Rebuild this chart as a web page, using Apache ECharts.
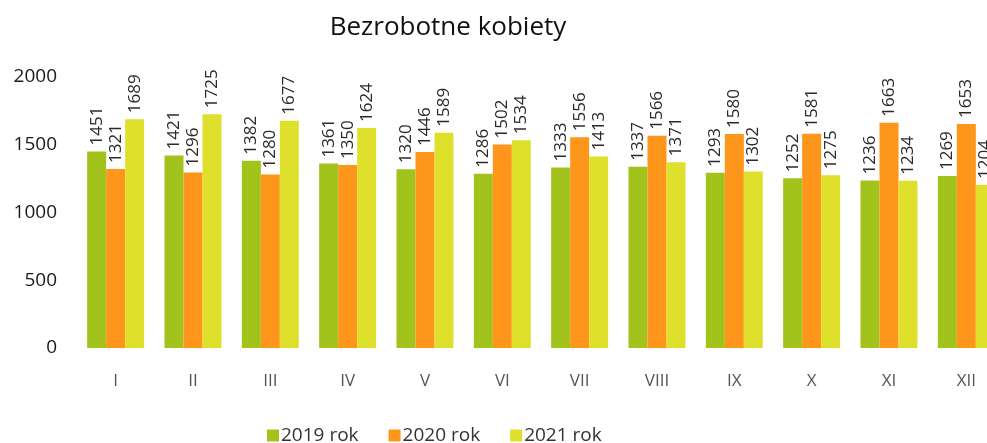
<!DOCTYPE html>
<html>
<head>
<meta charset="utf-8">
<script src="https://cdn.jsdelivr.net/npm/echarts@6/dist/echarts.min.js"></script>
<style>
  html, body { margin: 0; padding: 0; background: #fff; }
  #chart { width: 987px; height: 443px; }
</style>
</head>
<body>
<div id="chart"></div>
<script>
// miesiace
var months = ['I', 'II', 'III', 'IV', 'V', 'VI', 'VII', 'VIII', 'IX', 'X', 'XI', 'XII'];
var seriesNames = ['2019 rok', '2020 rok', '2021 rok'];
var data2019 = [1451, 1421, 1382, 1361, 1320, 1286, 1333, 1337, 1293, 1252, 1236, 1269];
var data2020 = [1321, 1296, 1280, 1350, 1446, 1502, 1556, 1566, 1580, 1581, 1663, 1653];
var data2021 = [1689, 1725, 1677, 1624, 1589, 1534, 1413, 1371, 1302, 1275, 1234, 1204];
var colors = ['#a2c21c', '#fd961a', '#dfe02c'];

var font = 'Open Sans';
var chart = echarts.init(document.getElementById('chart'));

function makeSeries(name, data, color) {
  return {
    name: name,
    type: 'bar',
    data: data,
    barWidth: 19,
    barGap: '0%',
    itemStyle: { color: color },
    label: {
      show: true,
      position: 'top',
      rotate: 90,
      align: 'left',
      verticalAlign: 'middle',
      distance: 6,
      color: '#2a2a2a',
      fontSize: 17,
      fontFamily: font
    }
  };
}

var option = {
  animation: false,
  color: colors,
  title: {
    text: 'Bezrobotne kobiety',
    left: 443,
    textAlign: 'center',
    top: 10,
    textStyle: { fontSize: 26, fontWeight: 'normal', color: '#111', fontFamily: font }
  },
  legend: {
    data: seriesNames,
    bottom: -7,
    left: 262,
    itemWidth: 12,
    itemHeight: 12,
    itemGap: 30,
    icon: 'rect',
    textStyle: { fontSize: 19, color: '#333', fontFamily: font, padding: [0, 0, 0, -3] }
  },
  // siatka wychodzi poza prawa krawedz, jak w oryginale
  grid: { left: 77, width: 928, top: 77, bottom: 95, containLabel: false, outerBoundsMode: 'none' },
  xAxis: {
    type: 'category',
    data: months,
    axisLine: { show: false },
    axisTick: { show: false },
    axisLabel: { color: '#555', fontSize: 17, fontFamily: font, margin: 25 }
  },
  yAxis: {
    type: 'value',
    min: 0,
    max: 2000,
    interval: 500,
    splitLine: { show: false },
    axisLabel: {
      color: '#1a1a1a', fontSize: 19, fontFamily: font, margin: 20,
      formatter: function (v) { return String(v); }
    }
  },
  series: [
    makeSeries(seriesNames[0], data2019, colors[0]),
    makeSeries(seriesNames[1], data2020, colors[1]),
    makeSeries(seriesNames[2], data2021, colors[2])
  ]
};

chart.setOption(option);
</script>
</body>
</html>
